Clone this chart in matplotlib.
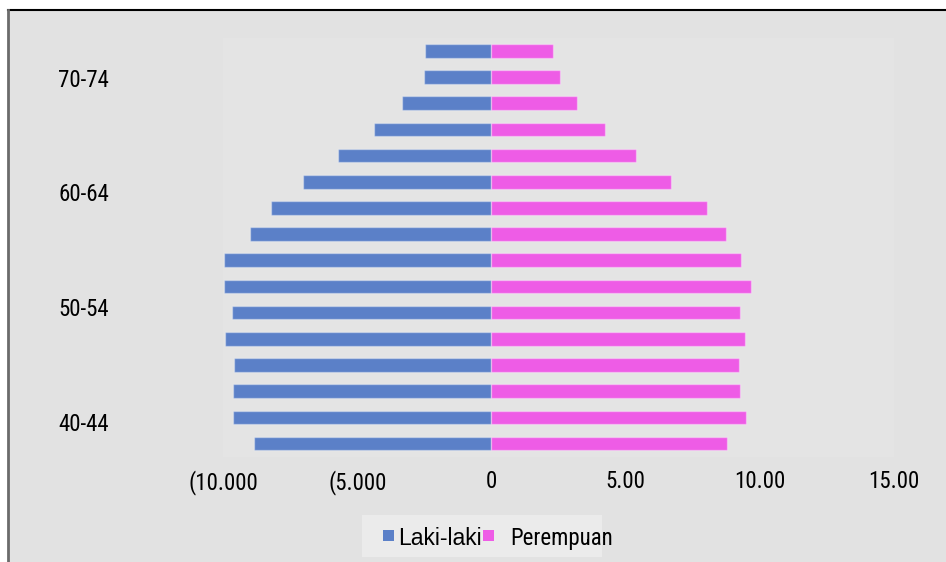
import matplotlib.pyplot as plt
from matplotlib.patches import Rectangle
from matplotlib.lines import Line2D
import numpy as np

# bar values, listed from the bottom bar to the top bar
laki = [8.83, 9.63, 9.63, 9.59, 9.93, 9.65, 9.95, 9.97,
        9.01, 8.23, 7.01, 5.72, 4.37, 3.32, 2.52, 2.46]
perempuan = [8.79, 9.47, 9.26, 9.21, 9.43, 9.26, 9.68, 9.31,
             8.74, 8.03, 6.71, 5.39, 4.23, 3.19, 2.56, 2.31]

umur_labels = ["40-44", "50-54", "60-64", "70-74"]
umur_pos = [0.84, 5.23, 9.6, 13.97]

x_ticks = [-10, -5, 0, 5, 10, 15]
x_labels = ["(10.000", "(5.000", "0", "5.00", "10.00", "15.00"]

biru = "#5b80c8"
pink = "#ee5ce6"
abu = "#e2e2e2"
narrow = ["Roboto Condensed", "DejaVu Sans"]
fs = 16.5

W, H = 946, 562
fig = plt.figure(figsize=(W / 100, H / 100), dpi=100, facecolor="white")

def px(x, y):
    return x / W, 1 - y / H

# grey panel with black top edge and grey left edge
x0, y0 = px(8, 562)
fig.add_artist(Rectangle((x0, y0), 1 - x0, 1 - 10 / H - y0,
                         transform=fig.transFigure, facecolor=abu,
                         edgecolor="none", zorder=0))
fig.add_artist(Line2D([8 / W, 1], [1 - 10 / H] * 2, transform=fig.transFigure,
                      color="black", lw=1.5))
fig.add_artist(Line2D([8 / W] * 2, [0, 1 - 10 / H], transform=fig.transFigure,
                      color="#6b6b6b", lw=2))

left, right = 223 / W, 894 / W
bottom, top = 1 - 456.6 / H, 1 - 37.7 / H
ax = fig.add_axes([left, bottom, right - left, top - bottom])
ax.set_facecolor("#e4e4e4")

y = np.arange(len(laki))
ax.barh(y, -np.array(laki), height=0.52, color=biru,
        edgecolor=(1, 1, 1, 0.35), linewidth=1)
ax.barh(y, perempuan, height=0.52, color=pink,
        edgecolor=(1, 1, 1, 0.35), linewidth=1)

ax.set_xlim(-10, 15)
ax.set_ylim(-0.5, len(laki) - 0.5)
for s in ax.spines.values():
    s.set_visible(False)

ax.set_xticks(x_ticks, x_labels, fontfamily=narrow, fontsize=fs)
ax.set_yticks(umur_pos, umur_labels, fontfamily=narrow, fontsize=fs)
ax.tick_params(axis="x", length=0, pad=10)
ax.tick_params(axis="y", length=0, pad=82)
ax.set_xticks([0], minor=True)
ax.tick_params(axis="x", which="minor", length=3, width=1, color="#909090")

# legend
bx, by = px(362, 557)
fig.add_artist(Rectangle((bx, by), 240 / W, 42 / H, transform=fig.transFigure,
                         facecolor="#ebebeb", edgecolor="none", zorder=1))
for xm, c in [(382.7, biru), (483, pink)]:
    mx, my = px(xm, 541)
    fig.add_artist(Rectangle((mx, my), 10.8 / W, 10.8 / H,
                             transform=fig.transFigure, facecolor=c,
                             edgecolor="none", zorder=2))
tx, ty = px(398, 536)
fig.text(tx, ty, "Laki-laki", fontfamily=["Liberation Sans", "DejaVu Sans"],
         fontsize=fs, va="center_baseline", ha="left")
tx, ty = px(510, 536)
fig.text(tx, ty, "Perempuan", fontfamily=narrow, fontsize=fs,
         va="center_baseline", ha="left")

plt.savefig("out.png", dpi=100, facecolor=fig.get_facecolor())
